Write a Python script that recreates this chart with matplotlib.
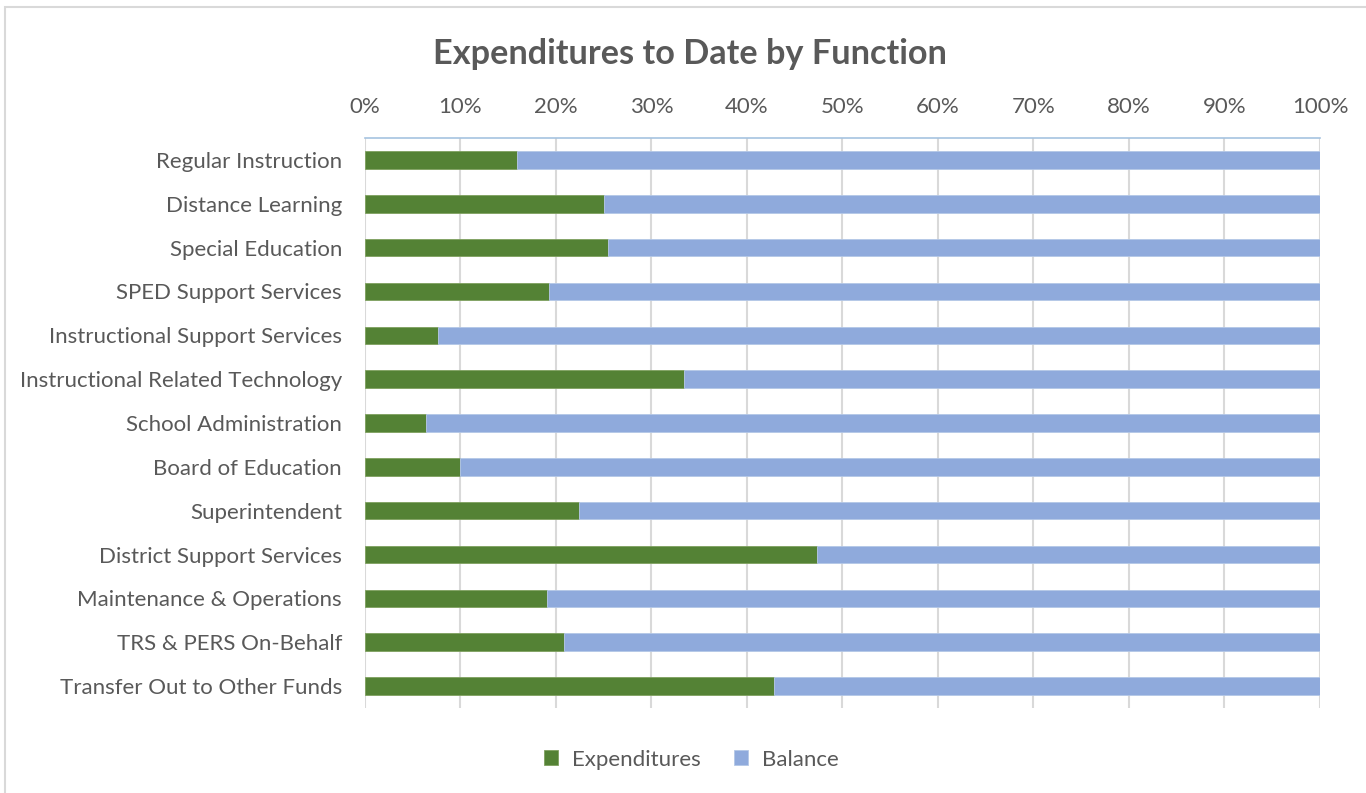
import matplotlib.pyplot as plt
from matplotlib.patches import Rectangle
from matplotlib.ticker import PercentFormatter

categories = ["Regular Instruction", "Distance Learning", "Special Education",
              "SPED Support Services", "Instructional Support Services",
              "Instructional Related Technology", "School Administration",
              "Board of Education", "Superintendent", "District Support Services",
              "Maintenance & Operations", "TRS & PERS On-Behalf",
              "Transfer Out to Other Funds"]
expenditures = [15.9, 25.0, 25.4, 19.3, 7.6, 33.4, 6.4, 10.0, 22.4, 47.3, 19.1, 20.8, 42.8]
balance = [100 - e for e in expenditures]

plt.rcParams['font.family'] = ['Lato', 'DejaVu Sans']
grey = '#595959'

fig = plt.figure(figsize=(13.66, 7.93), dpi=100)
ax = fig.add_axes([0.2672, 0.1072, 0.6991, 0.7188])

y = list(range(len(categories)))
ax.barh(y, expenditures, height=0.4, color='#548235', edgecolor='#7fa05f',
        linewidth=0.6, label='Expenditures', zorder=3)
ax.barh(y, balance, left=expenditures, height=0.4, color='#8faadc',
        edgecolor='#b4c7e7', linewidth=0.6, label='Balance', zorder=3)

ax.set_xlim(0, 100)
ax.set_ylim(len(categories) - 0.5, -0.5)
ax.set_yticks(y)
ax.set_yticklabels(categories)
ax.set_xticks(range(0, 101, 10))
ax.xaxis.set_major_formatter(PercentFormatter(decimals=0))
ax.xaxis.tick_top()
ax.tick_params(axis='x', length=0, pad=15, labelsize=16, labelcolor=grey)
ax.tick_params(axis='y', length=0, pad=16.5, labelsize=16, labelcolor=grey)
ax.grid(axis='x', color='#d9d9d9', linewidth=1.5, zorder=0)

for s in ['left', 'right', 'bottom']:
    ax.spines[s].set_visible(False)
ax.spines['top'].set_color('#a6c3e0')
ax.spines['top'].set_linewidth(1.2)

fig.text(0.505, 0.932, "Expenditures to Date by Function", ha='center', va='center',
         fontsize=24.7, fontweight='bold', color=grey)

leg = fig.legend(loc='center', bbox_to_anchor=(0.506, 0.042), ncol=2, frameon=False,
                 fontsize=16, handlelength=0.65, handleheight=0.65, columnspacing=1.5,
                 handletextpad=0.6)
for t in leg.get_texts():
    t.set_color(grey)

fig.patches.append(Rectangle((5 / 1366, -0.1), 1.2, 1.1 - 7 / 793, transform=fig.transFigure,
                             fill=False, edgecolor='#d9d9d9', linewidth=1.5))

fig.savefig('out.png', dpi=100)
